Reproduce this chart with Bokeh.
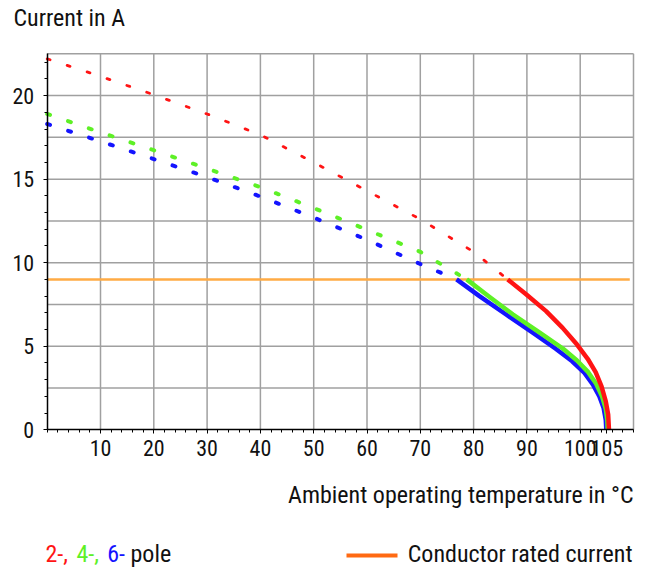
from bokeh.plotting import figure
from bokeh.models import Range1d, FixedTicker, Label
from bokeh.embed import file_html
from bokeh.resources import INLINE

# ---- data ----
temp_ticks = [10, 20, 30, 40, 50, 60, 70, 80, 90, 100, 105]
temp_labels = ["10", "20", "30", "40", "50", "60", "70", "80", "90", "100", "105"]
temp_grid = [10, 20, 30, 40, 50, 60, 70, 80, 90, 100, 110]
current_ticks = [0, 5, 10, 15, 20]
current_labels = ["0", "5", "10", "15", "20"]
current_grid = [2.5, 5, 7.5, 10, 12.5, 15, 17.5, 20, 22.5]
t_max = 110
i_max = 22.5

rated_current = 9.0
rated_t = [0, 109.3]

red_dot_t = [0, 10, 20, 30, 40, 50, 60, 70, 80, 86.4]
red_dot_i = [22.2, 21.15, 20.05, 18.9, 17.65, 16.0, 14.3, 12.6, 10.65, 9.0]
red_sol_t = [86.4, 89.9, 93.6, 96.7, 99.4, 101.4, 102.9, 104.0, 104.8, 105.25, 105.4]
red_sol_i = [9.0, 8.1, 7.1, 6.1, 5.1, 4.25, 3.45, 2.6, 1.7, 0.9, 0.0]

green_dot_t = [0, 10, 20, 30, 40, 50, 60, 70, 78.7]
green_dot_i = [18.9, 17.8, 16.73, 15.63, 14.52, 13.27, 11.97, 10.65, 9.0]
green_sol_t = [78.7, 83.0, 87.4, 92.4, 96.8, 99.4, 101.5, 103.0, 104.1, 104.8, 105.1, 105.15]
green_sol_i = [9.0, 7.95, 6.9, 5.81, 4.85, 4.15, 3.45, 2.75, 2.0, 1.25, 0.55, 0.0]

blue_dot_t = [0, 10, 20, 30, 40, 50, 60, 70, 76.8]
blue_dot_i = [18.3, 17.26, 16.2, 15.12, 13.96, 12.7, 11.37, 9.92, 9.0]
blue_sol_t = [76.8, 81.1, 86.1, 91.1, 95.4, 98.5, 100.8, 102.4, 103.6, 104.4, 104.8, 104.9]
blue_sol_i = [9.0, 8.0, 6.9, 5.81, 4.85, 4.1, 3.4, 2.7, 2.0, 1.3, 0.6, 0.0]

title_text = "Current in A"
xaxis_text = "Ambient operating temperature in °C"
legend_poles = ["2-,", "4-,", "6-", "pole"]
legend_rated = "Conductor rated current"

# ---- styling / layout ----
FONT = "Roboto Condensed"
RED = "#ff1414"
GREEN = "#5ef026"
BLUE = "#1414ff"
ORANGE_LINE = "#ffab45"
ORANGE_LEG = "#ff6a13"
GRID = "#a0a0a0"
TXT = "#111111"

W, H = 646, 570
# pixel position of the chart box (origin and far corner)
PX0, PX1 = 46.7, 633.0
PY0, PY1 = 429.3, 53.3
sx = (PX1 - PX0) / t_max
sy = (PY0 - PY1) / i_max
TEXT_SHIFT = 9.0  # renderer places the alphabetic baseline this much lower


def X(px):
    return (px - PX0) / sx


def Y(py):
    return (PY0 - py) / sy


p = figure(width=W, height=H, output_backend="svg", toolbar_location=None,
           x_range=Range1d(X(0), X(W)), y_range=Range1d(Y(H), Y(0)),
           min_border_left=0, min_border_right=0, min_border_top=0, min_border_bottom=0)
p.title.visible = False
p.background_fill_color = "white"
p.border_fill_color = "white"
p.outline_line_color = None
p.xgrid.visible = False
p.ygrid.visible = False

# grid of the chart box (segments restricted to the box)
p.segment(x0=temp_grid, y0=[0] * len(temp_grid), x1=temp_grid, y1=[i_max] * len(temp_grid),
          line_color=GRID, line_width=1.5)
p.segment(x0=[0] * len(current_grid), y0=current_grid, x1=[t_max] * len(current_grid), y1=current_grid,
          line_color=GRID, line_width=1.5)

# axes fixed at the chart origin
p.xaxis.fixed_location = 0
p.yaxis.fixed_location = 0
p.xaxis.bounds = (0, t_max)
p.yaxis.bounds = (0, i_max)
p.xaxis.ticker = FixedTicker(ticks=temp_ticks, minor_ticks=list(range(0, 111, 2)))
p.xaxis.major_label_overrides = {t: l for t, l in zip(temp_ticks, temp_labels)}
p.yaxis.ticker = FixedTicker(ticks=current_ticks, minor_ticks=list(range(0, 23)))
p.yaxis.major_label_overrides = {t: l for t, l in zip(current_ticks, current_labels)}
for ax in (p.xaxis, p.yaxis):
    ax.axis_line_color = "black"
    ax.axis_line_width = 1.5
    ax.major_tick_line_color = "black"
    ax.minor_tick_line_color = "black"
    ax.major_tick_in = 0
    ax.major_tick_out = 4
    ax.minor_tick_in = 0
    ax.minor_tick_out = 3
    ax.major_label_text_font = FONT
    ax.major_label_text_font_size = "22px"
    ax.major_label_text_color = TXT
p.xaxis.major_label_standoff = 6
p.yaxis.major_label_standoff = 9

# rated current
p.line(rated_t, [rated_current] * len(rated_t), line_color=ORANGE_LINE, line_width=2.5)

# dotted portions
p.line(blue_dot_t, blue_dot_i, line_color=BLUE, line_width=4, line_dash="3 19", line_cap="round")
p.line(green_dot_t, green_dot_i, line_color=GREEN, line_width=4, line_dash="3 19", line_cap="round")
p.line(red_dot_t, red_dot_i, line_color=RED, line_width=2.8, line_dash="3 18", line_cap="round")

# solid portions
p.line(blue_sol_t, blue_sol_i, line_color=BLUE, line_width=4.5, line_join="round")
p.line(green_sol_t, green_sol_i, line_color=GREEN, line_width=4.5, line_join="round")
p.line(red_sol_t, red_sol_i, line_color=RED, line_width=4.5, line_join="round")


def lab(px, py, text, color=TXT, align="left", size="24px"):
    p.add_layout(Label(x=X(px), y=Y(py - TEXT_SHIFT), text=text, text_font=FONT,
                       text_font_size=size, text_color=color, text_align=align,
                       text_baseline="alphabetic"))


lab(13, 26.7, title_text)
lab(633, 503, xaxis_text, align="right")
lab(45, 562, legend_poles[0], color=RED)
lab(76, 562, legend_poles[1], color=GREEN)
lab(106.7, 562, legend_poles[2], color=BLUE)
lab(130, 562, legend_poles[3])
p.line([X(346), X(397)], [Y(555), Y(555)], line_color=ORANGE_LEG, line_width=4)
lab(632, 562, legend_rated, align="right")

open("out.html", "w").write(file_html(p, INLINE))
